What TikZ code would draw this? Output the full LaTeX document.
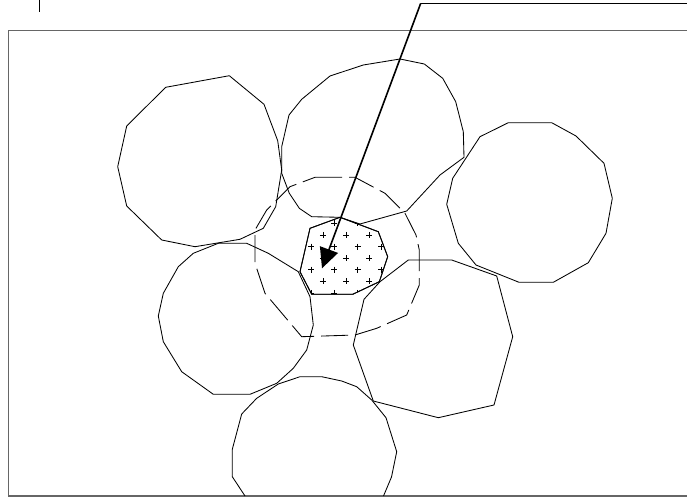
\documentclass[tikz,border=0pt]{standalone}
\usepackage{tikz}
\usetikzlibrary{arrows.meta}

\begin{document}
\begin{tikzpicture}[
  x=1pt, y=-1pt,
  cell/.style={draw=black, line width=0.85pt, line join=round},
  zone/.style={draw=black, line width=0.85pt, dash pattern=on 27pt off 7pt},
  core/.style={draw=black, line width=0.85pt, fill=white},
  frame/.style={draw=gray!80!black, line width=1.2pt},
  leader/.style={draw=black, line width=1.6pt, -{Triangle[length=20pt,width=19pt]}}
]
\useasboundingbox (0,0) rectangle (687,497);

% Rahmen
\draw[frame] (687.5,30.7) -- (8.5,30.7) -- (8.5,496) -- (687.5,496);
\draw[line width=1.6pt] (39.3,0) -- (39.3,12);

% Zellen
\path[cell] (165.7,87.3) -- (229.3,75.7) -- (264,104.3) -- (277.7,140.7)
  -- (281.7,170) -- (275.7,206.7) -- (263.3,228.3) -- (240,239.3)
  -- (195,246.7) -- (161.7,240) -- (126.7,206) -- (117.7,166.7)
  -- (126.7,126) -- cycle;

\path[cell] (289,115) -- (301.7,99.3) -- (330,76) -- (363.3,65) -- (400,59)
  -- (424.3,64) -- (442.7,78.3) -- (455.7,101.7) -- (463.3,131.7)
  -- (464,157.3) -- (440,175) -- (406.7,211) -- (360,224) -- (340,217.3)
  -- (311.7,216.7) -- (299.3,208.3) -- (289.3,193.3) -- (281.7,173.3)
  -- (281.7,146.7) -- cycle;

\path[cell] (508.3,122.7) -- (551.7,122.7) -- (576,136) -- (604,163.3)
  -- (612.3,198.3) -- (606,233.3) -- (588.3,262.7) -- (553.3,282.3)
  -- (519,282.3) -- (476,265) -- (458.3,243.3) -- (446.7,204.3)
  -- (452.7,178.3) -- (480,136.7) -- cycle;

\path[cell] (408.3,260) -- (451.7,260) -- (496.7,276) -- (512.7,336.7)
  -- (494,405) -- (438.3,417.7) -- (373.3,401) -- (353.3,345)
  -- (364,299.3) -- (380,281.7) -- cycle;

\path[cell] (218.3,243.3) -- (246.7,243.3) -- (268.3,253.3) -- (298.3,271.7)
  -- (310,296.7) -- (313.3,325) -- (306.7,350) -- (293.3,368.3)
  -- (276.7,383.3) -- (250,394.3) -- (213.3,394.3) -- (181.7,371.7)
  -- (163.3,341.7) -- (158.3,316) -- (163.3,293.3) -- (178.3,266.7)
  -- (193.3,253.3) -- cycle;

\path[cell] (245,496) -- (232.3,476.7) -- (232.3,449.3) -- (241.7,414)
  -- (256.7,398.3) -- (278.3,384) -- (300,376.7) -- (321.7,376.7)
  -- (341.7,381) -- (356.7,386.7) -- (371.7,400) -- (386,417.7)
  -- (396.7,451.7) -- (391.5,477) -- (383.5,496);

% Zone
\path[zone] (315,177.3) -- (355,177.3) -- (385,193.3) -- (405,213.3)
  -- (416,235) -- (419.3,250) -- (419.3,285) -- (406.7,315)
  -- (376.7,328.3) -- (355,335) -- (301.7,336.7) -- (265,293.3)
  -- (255,263.3) -- (255,230) -- (266.7,210) -- (290,186.7) -- cycle;

% Kern
\path[core] (310,228.3) -- (340,217.3) -- (378.3,231.7) -- (387.7,256.7)
  -- (379.3,281.7) -- (352.7,294.3) -- (311.7,294.3) -- (300,271.7) -- cycle;
\begin{scope}
  \clip (310,228.3) -- (340,217.3) -- (378.3,231.7) -- (387.7,256.7)
    -- (379.3,281.7) -- (352.7,294.3) -- (311.7,294.3) -- (300,271.7) -- cycle;
  \foreach \j in {-1,...,6}{
    \pgfmathsetmacro{\yy}{223.3+11.6*\j}
    \pgfmathsetmacro{\xs}{isodd(\j+1) ? 311 : 299.4}
    \foreach \i in {0,...,4}{
      \draw[line width=0.5pt] ({\xs+23.35*\i-3},\yy) -- ++(6,0)
        ({\xs+23.35*\i},\yy-3) -- ++(0,6);
    }
  }
\end{scope}
\draw[core, fill=none] (310,228.3) -- (340,217.3) -- (378.3,231.7) -- (387.7,256.7)
  -- (379.3,281.7) -- (352.7,294.3) -- (311.7,294.3) -- (300,271.7) -- cycle;

% Hinweislinie
\coordinate (lead) at (688,3.3);
\coordinate (bend) at (420.7,3.3);
\coordinate (tip) at (322,268.3);
\draw[line width=1.1pt] (lead) -- (bend);
\draw[leader] (bend) -- (tip);
\end{tikzpicture}
\end{document}
